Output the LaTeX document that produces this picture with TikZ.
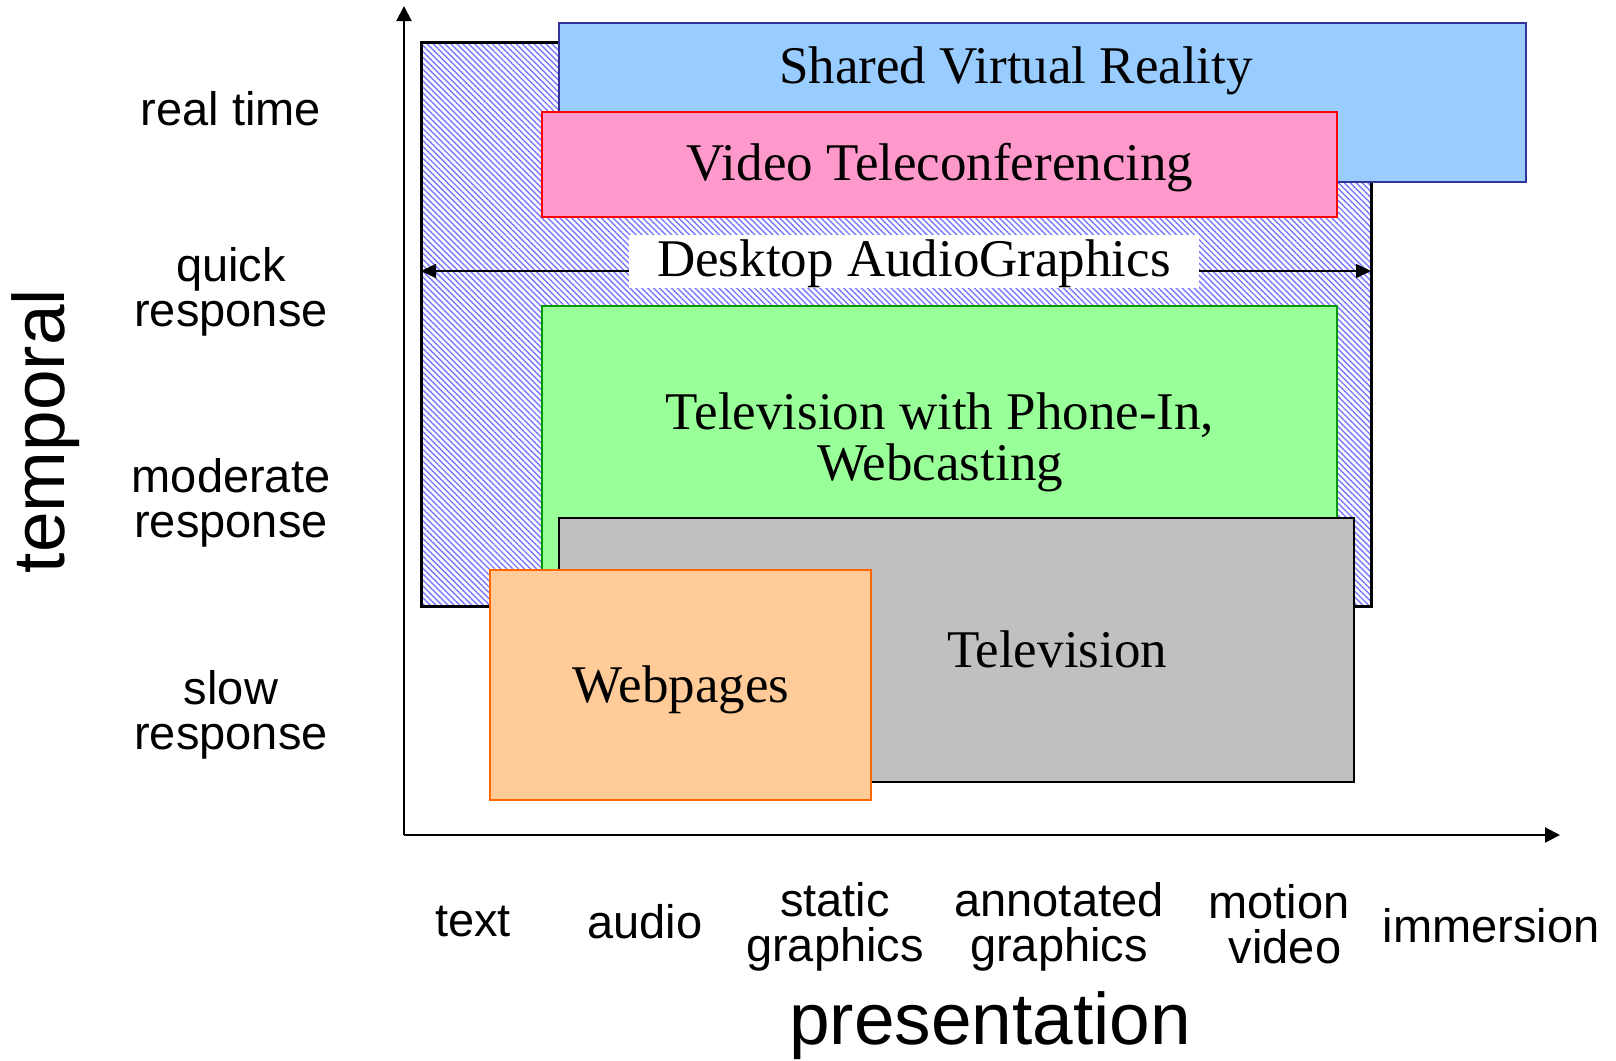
\documentclass[tikz,border=0pt]{standalone}
\usepackage{fontspec}
\setmainfont{Liberation Serif}
\setsansfont{Liberation Sans}
\usetikzlibrary{arrows.meta,patterns.meta}
\definecolor{svrfill}{HTML}{99CCFF}
\definecolor{svrdraw}{HTML}{333399}
\definecolor{vtfill}{HTML}{FF99CC}
\definecolor{vtdraw}{HTML}{FF0000}
\definecolor{tvpfill}{HTML}{99FF99}
\definecolor{tvpdraw}{HTML}{009900}
\definecolor{tvfill}{HTML}{C0C0C0}
\definecolor{wpfill}{HTML}{FFCC99}
\definecolor{wpdraw}{HTML}{FF6600}
\definecolor{hatchcol}{HTML}{7878FF}
\begin{document}
\begin{tikzpicture}[x=1pt,y=-1pt,
  box/.style={rectangle,inner sep=0pt,line width=2pt},
  serif/.style={font=\fontsize{53}{51}\selectfont\rmfamily,align=center,inner sep=0pt},
  axislabel/.style={font=\fontsize{47}{45.5}\selectfont\sffamily,align=center,inner sep=0pt},
  bigaxis/.style={font=\fontsize{73}{80}\selectfont\sffamily,inner sep=0pt},
  axis/.style={line width=2pt,-{Triangle[length=15pt,width=15pt]}}]
\useasboundingbox (0,0) rectangle (1616,1060);
% hatched box
\node[box,draw=black,line width=3pt,fill=white,minimum width=950pt,minimum height=564pt] (dag) at (896,324) {};
\fill[pattern={Lines[angle=-45,distance=4.2pt,line width=1.4pt]},pattern color=hatchcol] (421,42) rectangle (1371,606);
\node[box,draw=black,line width=3pt,minimum width=950pt,minimum height=564pt] at (896,324) {};
% shared VR
\node[box,draw=svrdraw,fill=svrfill,minimum width=967pt,minimum height=159pt] (svr) at (1042.5,102.5) {};
\node[serif] (svrt) at (1016,71) {Shared Virtual Reality};
% video teleconf
\node[box,draw=vtdraw,fill=vtfill,minimum width=795pt,minimum height=105pt] (vt) at (939.5,164.5) {};
\node[serif] (vtt) at (940,168) {Video Teleconferencing};
% desktop audiographics arrow
\coordinate (dl) at (421,271);
\coordinate (dr) at (1371,271);
\draw[line width=1.5pt,{Triangle[length=15pt,width=14pt]}-{Triangle[length=15pt,width=14pt]}] (dl) -- (dr);
\node[fill=white,inner sep=0pt,minimum width=570pt,minimum height=53pt] (dagl) at (914,261.5) {};
\node[serif] (dagt) at (914,264) {Desktop AudioGraphics};
% TV with phone-in
\node[box,draw=tvpdraw,fill=tvpfill,minimum width=795pt,minimum height=294pt] (tvp) at (939.5,453) {};
\node[serif] (tvpt) at (940,442) {Television with Phone-In,\\Webcasting};
% television
\node[box,draw=black,fill=tvfill,minimum width=795pt,minimum height=264pt] (tv) at (956.5,650) {};
\node[serif] (tvt) at (1057,649) {Television};
% webpages
\node[box,draw=wpdraw,fill=wpfill,minimum width=381pt,minimum height=230pt] (wp) at (680.5,685) {};
\node[serif] (wpt) at (681,690) {Webpages};
% axes
\coordinate (o) at (404,835);
\coordinate (ytop) at (404,6);
\coordinate (xright) at (1560,835);
\draw[axis] (o) -- (ytop);
\draw[axis] (o) -- (xright);
% y labels
\node[axislabel] (rt) at (231,109) {real time};
\node[axislabel] (qr) at (231,292) {quick\\response};
\node[axislabel] (mr) at (231,503) {moderate\\response};
\node[axislabel] (sr) at (231,715) {slow\\response};
\node[bigaxis,rotate=90] (temp) at (46,431) {temporal};
% x labels
\node[axislabel] (xt) at (473,922) {text};
\node[axislabel] (xa) at (645,922) {audio};
\node[axislabel] (xs) at (835,927) {static\\graphics};
\node[axislabel] (xg) at (1059,927) {annotated\\graphics};
\node[axislabel] (xm) at (1279,924) {motion\\\hspace*{12pt}video};
\node[axislabel] (xi) at (1491,926) {immersion};
\node[bigaxis] (pres) at (990,1026) {presentation};
\end{tikzpicture}
\end{document}
